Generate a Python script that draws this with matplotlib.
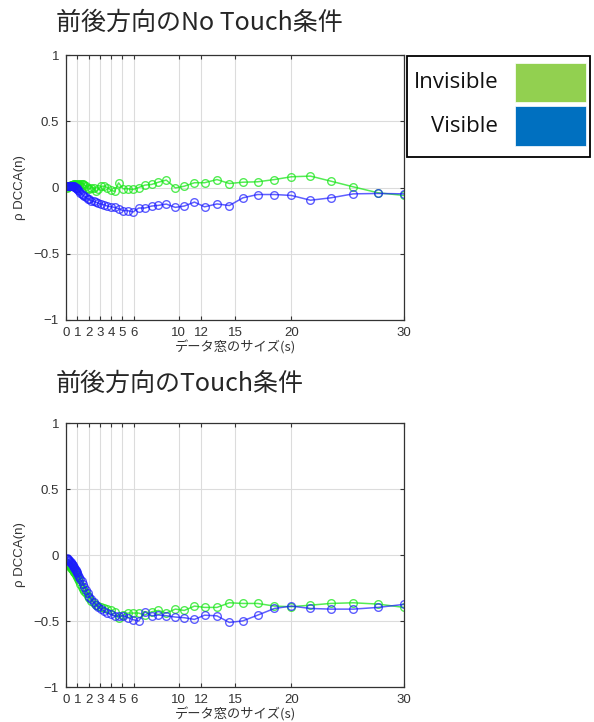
import matplotlib.pyplot as plt
from matplotlib.patches import Rectangle

plt.rcParams['font.family'] = ['Liberation Sans', 'Noto Sans CJK JP']

# window sizes (s)
win = [0.1, 0.15, 0.2, 0.25, 0.3, 0.35, 0.4, 0.45, 0.5, 0.55, 0.6, 0.65, 0.7, 0.75, 0.8, 0.85, 0.9, 0.95,
       1.0, 1.09, 1.18, 1.28, 1.39, 1.51, 1.63, 1.77, 1.92, 2.08, 2.26, 2.45, 2.65, 2.88, 3.12, 3.38,
       3.67, 3.98, 4.31, 4.67, 5.07, 5.5, 5.95, 6.45, 7.0, 7.6, 8.2, 8.9, 9.7, 10.5, 11.4, 12.3,
       13.4, 14.5, 15.7, 17.0, 18.5, 20.0, 21.7, 23.5, 25.5, 27.7, 30.0]

# No Touch
nt_invisible = [0.0, 0.005, 0.01, 0.01, 0.015, 0.015, 0.015, 0.02, 0.02, 0.02, 0.02, 0.02, 0.025, 0.025, 0.02, 0.02, 0.025, 0.02,
                0.02, 0.025, 0.02, 0.025, 0.03, 0.03, 0.02, 0.01, 0.0, -0.01, 0.0, 0.0, -0.03, -0.01, 0.01, 0.01,
                0.0, -0.02, -0.03, 0.035, -0.01, -0.01, -0.015, 0.0, 0.018, 0.023, 0.04, 0.056, -0.003, 0.01, 0.036, 0.036,
                0.06, 0.03, 0.04, 0.043, 0.06, 0.081, 0.086, 0.048, 0.005, -0.04, -0.06]
nt_visible = [0.015, 0.015, 0.015, 0.015, 0.015, 0.015, 0.015, 0.015, 0.015, 0.012, 0.01, 0.01, 0.008, 0.005, 0.003, 0.0, -0.003, -0.006,
              -0.01, -0.02, -0.03, -0.04, -0.05, -0.06, -0.065, -0.075, -0.085, -0.09, -0.1, -0.105, -0.11, -0.12, -0.125, -0.13,
              -0.14, -0.145, -0.15, -0.16, -0.175, -0.175, -0.185, -0.155, -0.155, -0.14, -0.135, -0.125, -0.15, -0.14, -0.11, -0.146,
              -0.124, -0.136, -0.078, -0.053, -0.053, -0.06, -0.096, -0.078, -0.048, -0.045, -0.048]

# Touch
t_invisible = [-0.06, -0.065, -0.07, -0.075, -0.08, -0.085, -0.09, -0.095, -0.1, -0.105, -0.11, -0.115, -0.125, -0.13, -0.14, -0.145, -0.15, -0.16,
               -0.17, -0.185, -0.2, -0.22, -0.24, -0.255, -0.27, -0.29, -0.31, -0.325, -0.345, -0.36, -0.375, -0.385, -0.395, -0.405,
               -0.41, -0.42, -0.43, -0.48, -0.455, -0.44, -0.44, -0.44, -0.455, -0.43, -0.42, -0.44, -0.41, -0.42, -0.387, -0.397,
               -0.397, -0.362, -0.367, -0.367, -0.387, -0.392, -0.38, -0.367, -0.362, -0.372, -0.397]
t_visible = [-0.025, -0.03, -0.035, -0.04, -0.045, -0.05, -0.055, -0.06, -0.065, -0.07, -0.075, -0.085, -0.09, -0.1, -0.105, -0.115, -0.12, -0.13,
             -0.14, -0.155, -0.17, -0.185, -0.2, -0.22, -0.24, -0.265, -0.29, -0.315, -0.335, -0.355, -0.375, -0.395, -0.41, -0.425,
             -0.44, -0.45, -0.46, -0.465, -0.46, -0.475, -0.49, -0.5, -0.43, -0.46, -0.455, -0.46, -0.47, -0.475, -0.488, -0.456,
             -0.461, -0.511, -0.499, -0.456, -0.405, -0.387, -0.405, -0.41, -0.41, -0.397, -0.374]

xticks = [0, 1, 2, 3, 4, 5, 6, 10, 12, 15, 20, 30]
yticks = [-1, -0.5, 0, 0.5, 1]
ylabels = ['\u22121', '\u22120.5', '0', '0.5', '1']
titles = ['前後方向のNo Touch条件', '前後方向のTouch条件']
legend_names = ['Invisible', 'Visible']
legend_colors = ['#92D050', '#0070C0']

fig = plt.figure(figsize=(5.94, 7.22), dpi=100)
W, H = 594, 722
axc = '#333333'

panels = [(55, 320, nt_invisible, nt_visible), (423, 687, t_invisible, t_visible)]
for (top, bot, inv, vis), title, ty in zip(panels, titles, [23, 384]):
    ax = fig.add_axes([66 / W, (H - bot) / H, 338 / W, (bot - top) / H])
    ax.plot(win, inv, '-o', color=(0.1, 0.9, 0.1), mfc='none', ms=5.5, mew=1, lw=1.1, alpha=0.75)
    ax.plot(win, vis, '-o', color=(0.1, 0.1, 1.0), mfc='none', ms=5.5, mew=1, lw=1.1, alpha=0.7)
    ax.set_xlim(0, 30)
    ax.set_ylim(-1, 1)
    ax.set_xticks(xticks)
    ax.set_yticks(yticks)
    ax.set_yticklabels(ylabels)
    ax.grid(True, color='#dcdcdc', lw=0.8)
    ax.set_axisbelow(True)
    ax.tick_params(direction='in', top=True, right=True, length=3, width=0.8,
                   colors=axc, labelsize=9.5, pad=5)
    for s in ax.spines.values():
        s.set_color(axc)
        s.set_linewidth(0.9)
    ax.set_xlabel('データ窓のサイズ(s)', family=['Noto Sans CJK JP'], fontsize=9.5,
                  color=axc, labelpad=1)
    ax.set_ylabel('ρ DCCA(n)', fontsize=9.5, color=axc, labelpad=5)
    fig.text(56 / W, 1 - ty / H, title, family=['Noto Sans CJK JP'], fontsize=18,
             color='#262626', va='center', ha='left')

# legend box
fig.patches.append(Rectangle((407 / W, 1 - 157 / H), 183 / W, 101 / H, transform=fig.transFigure,
                             fill=False, edgecolor='black', lw=1.3))
for name, col, y0, y1 in zip(legend_names, legend_colors, [63, 106], [102, 146]):
    fig.patches.append(Rectangle((515 / W, 1 - y1 / H), 71 / W, (y1 - y0) / H,
                                 transform=fig.transFigure, facecolor=col, edgecolor='white', lw=0.5))
    fig.text(498 / W, 1 - (y0 + y1) / 2 / H, name, family=['Open Sans'], fontsize=16,
             ha='right', va='center', color='#111111')

plt.savefig('out.png', dpi=100)
